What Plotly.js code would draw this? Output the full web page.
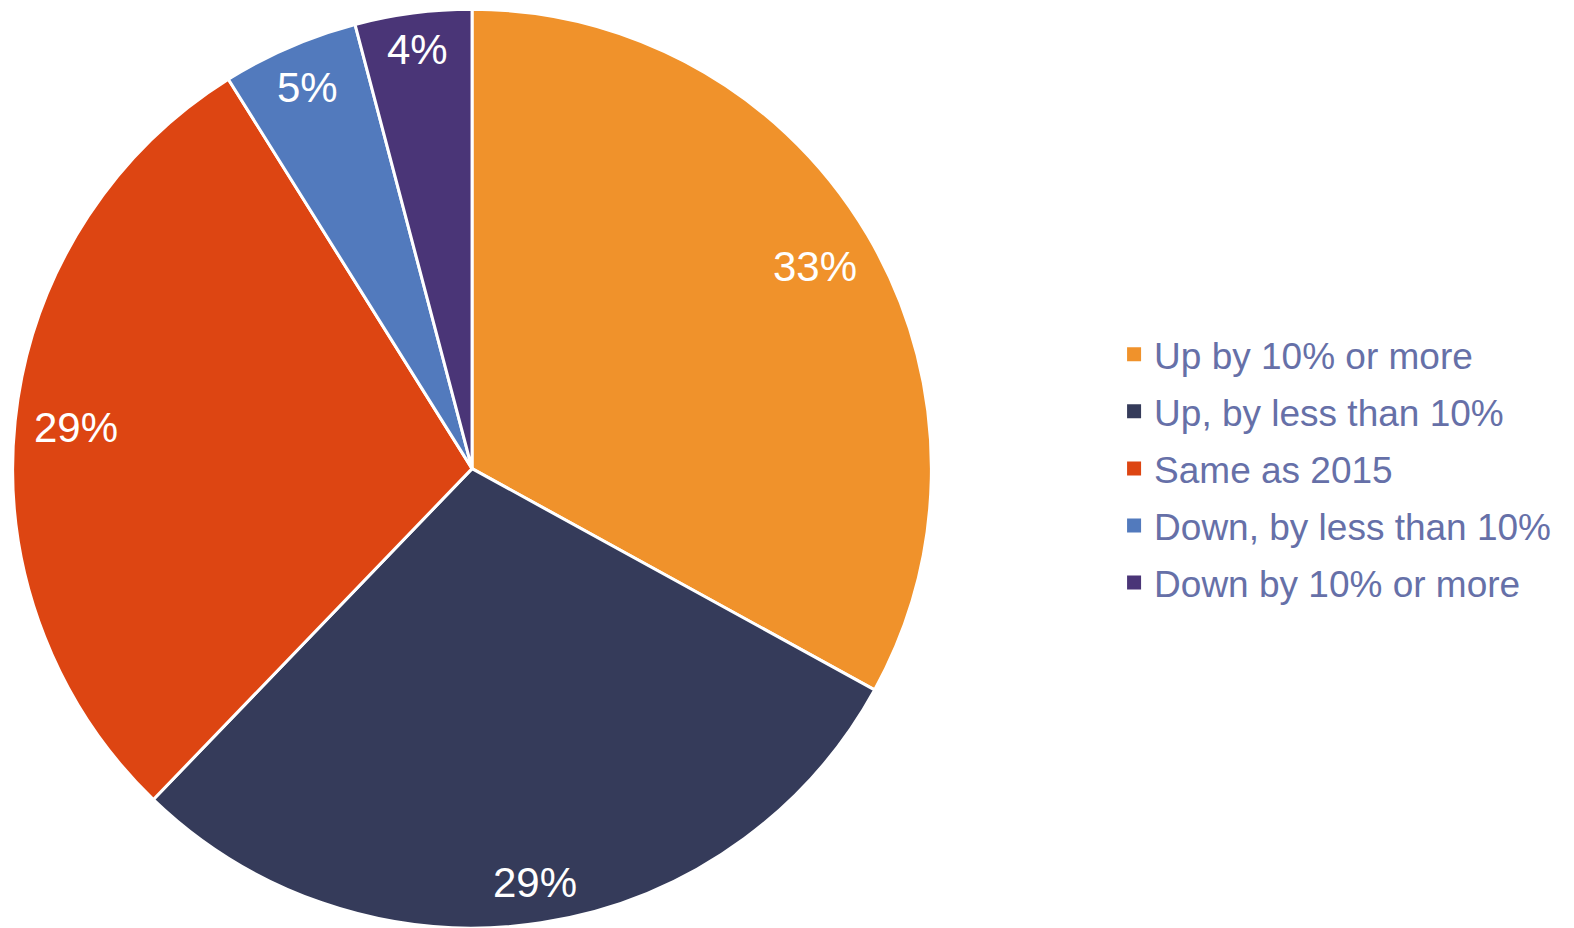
<!DOCTYPE html>
<html>
<head>
<meta charset="utf-8">
<script src="https://cdn.plot.ly/plotly-3.0.1.min.js"></script>
<style>html,body{margin:0;padding:0;background:#fff;}#chart{width:1574px;height:928px;}</style>
</head>
<body>
<div id="chart"></div>
<script>
const categories = ["Up by 10% or more", "Up, by less than 10%", "Same as 2015", "Down, by less than 10%", "Down by 10% or more"];
const values = [33.0, 29.2, 28.9, 4.8, 4.1];
const labelsText = ["33%", "29%", "29%", "5%", "4%"];
const colors = ["#F0922B", "#353B5A", "#DD4512", "#527ABD", "#4A3577"];

const W = 1574, H = 928;
const dom = {x: [0.008, 0.5918], y: [0.0, 0.99]};
const FONT = 'Liberation Sans, Arial, sans-serif';
const LABEL_SIZE = 42;

const traces = [{
  type: 'pie',
  labels: categories,
  values: values,
  textinfo: 'none',
  sort: false,
  direction: 'clockwise',
  rotation: 0,
  marker: {colors: colors, line: {color: '#FFFFFF', width: 3}},
  domain: dom,
  showlegend: false,
  hoverinfo: 'none'
}];

// legend entries (square keys)
categories.forEach((c, i) => {
  traces.push({
    type: 'scatter', mode: 'markers', x: [null], y: [null],
    name: c, legendgroup: 'g' + i, showlegend: true,
    marker: {symbol: 'square', size: 14, color: colors[i], line: {width: 0}},
    hoverinfo: 'none'
  });
});

// percentage labels: "best fit" inside the slice, near the rim
const ctx = document.createElement('canvas').getContext('2d');
ctx.font = LABEL_SIZE + 'px "Liberation Sans", Arial, sans-serif';
const total = values.reduce((a, b) => a + b, 0);
const cx = (dom.x[0] + dom.x[1]) / 2, cy = (dom.y[0] + dom.y[1]) / 2;
const rPx = (dom.y[1] - dom.y[0]) * H / 2;
const Rc = 0.962 * rPx;
const annotations = [];
let cum = 0;
values.forEach((v, i) => {
  const mid = (cum + v / 2) / total * 2 * Math.PI;
  cum += v;
  const ux = Math.sin(mid), uy = Math.cos(mid); // uy upward
  const w = ctx.measureText(labelsText[i]).width;
  const h = 0.716 * LABEL_SIZE;
  const c = [Math.sign(ux) * w / 2, Math.sign(uy) * h / 2];
  const uc = ux * c[0] + uy * c[1];
  const d = -uc + Math.sqrt(uc * uc - (c[0] * c[0] + c[1] * c[1]) + Rc * Rc);
  annotations.push({
    xref: 'paper', yref: 'paper',
    x: cx + d * ux / W,
    y: cy + d * uy / H,
    text: labelsText[i], showarrow: false,
    xanchor: 'center', yanchor: 'middle',
    font: {family: FONT, size: LABEL_SIZE, color: '#FFFFFF'}
  });
});

Plotly.newPlot('chart', traces, {
  width: W, height: H,
  margin: {l: 0, r: 0, t: 0, b: 0},
  paper_bgcolor: '#FFFFFF',
  plot_bgcolor: 'rgba(0,0,0,0)',
  xaxis: {visible: false}, yaxis: {visible: false},
  showlegend: true,
  annotations: annotations,
  legend: {
    x: 0.7078, xanchor: 'left', y: 0.495, yanchor: 'middle',
    font: {family: FONT, size: 37, color: '#6670A8'},
    itemwidth: 30, tracegroupgap: 6, bgcolor: 'rgba(0,0,0,0)'
  }
}, {staticPlot: true});
</script>
</body>
</html>
